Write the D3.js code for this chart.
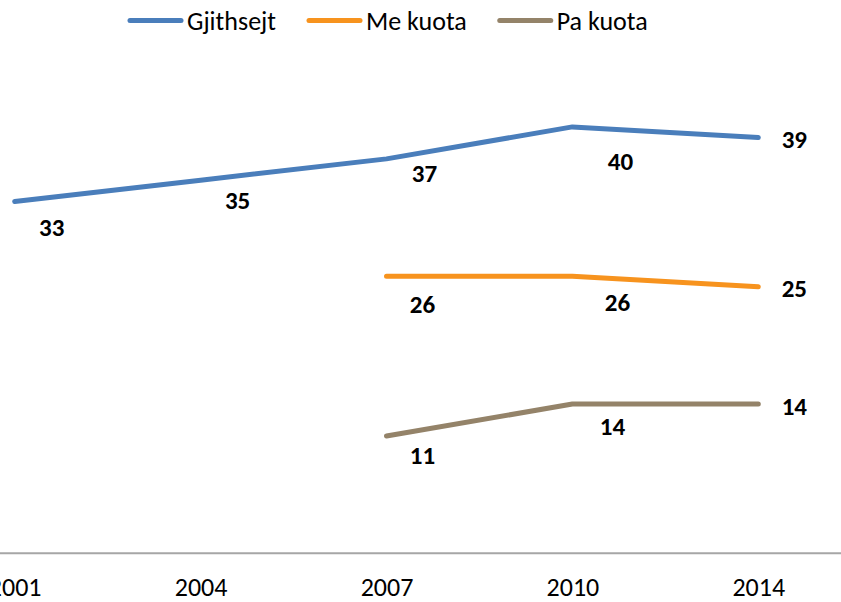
<!DOCTYPE html>
<html lang="sq">
    <head>
        <meta charset="utf-8">
        <title>Gjithsejt / Me kuota / Pa kuota</title>
        <script src="https://cdn.jsdelivr.net/npm/d3@7"></script>
        <style>
            body
            {
                margin: 0;
                background: #fff;
            }
            text
            {
                font-family: Calibri, Carlito, Lato, sans-serif;
                fill: #000;
            }
            .series
            {
                fill: none;
                stroke-width: 5;
                stroke-linecap: round;
                stroke-linejoin: round;
            }
            .value
            {
                font-size: 25px;
                font-weight: bold;
            }
        </style>
    </head>
    <body>
        <svg id="chart" width="841" height="602"></svg>

        <script>
            // data
            var years = ['2001', '2004', '2007', '2010', '2014']
            var gjithsejt = [33, 35, 37, 40, 39]
            var meKuota = [null, null, 26, 26, 25]
            var paKuota = [null, null, 11, 14, 14]
            var seriesNames = ['Gjithsejt', 'Me kuota', 'Pa kuota']

            // where each value label sits relative to its point (layout only)
            var labelShift = [
                [[37, 25], [37, 20], [38, 14], [48, 34], [36, 1]],
                [null, null, [36, 28], [45, 26], [36, 1]],
                [null, null, [36, 19], [40, 22], [36, 2]]
            ]
            var colors = ['#4a7ebb', '#f7931e', '#948369']

            var width = 841, height = 602
            var svg = d3.select('#chart')

            var x = d3.scalePoint()
                .domain(years)
                .range([14.7, 758.3])

            var y = d3.scaleLinear()
                .domain([0, 50])
                .range([553.3, 20.3])

            // x axis: plain grey line across the plot, no ticks
            svg.append('line')
                .attr('x1', 0)
                .attr('x2', width)
                .attr('y1', y(0))
                .attr('y2', y(0))
                .attr('stroke', '#a6a6a6')
                .attr('stroke-width', 2)

            var xAxis = svg.append('g')
                .attr('transform', 'translate(0,' + y(0) + ')')
                .call(d3.axisBottom(x).tickSize(0).tickPadding(24))
            xAxis.select('.domain').remove()
            xAxis.selectAll('text')
                .style('font-family', 'Calibri, Carlito, Lato, sans-serif')
                .style('font-size', '26px')
                .attr('fill', '#000')

            var allSeries = [gjithsejt, meKuota, paKuota]

            var line = d3.line()
                .defined(function (d) { return d.v != null })
                .x(function (d) { return x(d.year) })
                .y(function (d) { return y(d.v) })

            allSeries.forEach(function (values, s)
            {
                var pts = values.map(function (v, i) { return {year: years[i], v: v, i: i} })

                svg.append('path')
                    .datum(pts)
                    .attr('class', 'series')
                    .attr('stroke', colors[s])
                    .attr('d', line)

                svg.selectAll('.lbl' + s)
                    .data(pts.filter(function (d) { return d.v != null }))
                    .enter()
                    .append('text')
                    .attr('class', 'value lbl' + s)
                    .attr('x', function (d) { return x(d.year) + labelShift[s][d.i][0] })
                    .attr('y', function (d) { return y(d.v) + labelShift[s][d.i][1] })
                    .attr('dy', '0.36em')
                    .attr('text-anchor', 'middle')
                    .text(function (d) { return d3.format('.0f')(d.v) })
            })

            // legend on top
            var legend = svg.append('g')
            var lx = 128
            seriesNames.forEach(function (name, s)
            {
                legend.append('line')
                    .attr('x1', lx + 2)
                    .attr('x2', lx + 53)
                    .attr('y1', 20.5)
                    .attr('y2', 20.5)
                    .attr('stroke', colors[s])
                    .attr('stroke-width', 5)
                    .attr('stroke-linecap', 'round')

                var t = legend.append('text')
                    .attr('x', lx + 59)
                    .attr('y', 29.5)
                    .style('font-size', '26px')
                    .text(name)

                lx = lx + 59 + t.node().getComputedTextLength() + 31
            })
        </script>
    </body>
</html>
